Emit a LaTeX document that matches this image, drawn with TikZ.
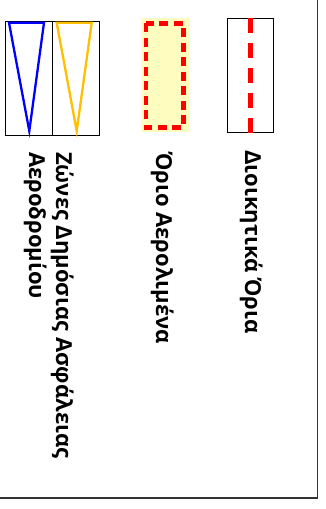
\documentclass[tikz,border=0pt]{standalone}
\usepackage{fontspec}
\setmainfont{Open Sans}
\tikzset{
  legbox/.style={draw=black, line width=0.9pt},
  legtext/.style={rotate=-90, inner sep=0pt, font=\bfseries\fontsize{22}{27}\selectfont, align=left},
  tri/.style={line width=2.3pt, line join=miter},
  redline/.style={draw=red, line width=4.5pt}
}
\definecolor{gold}{HTML}{FFC000}
\begin{document}
\begin{tikzpicture}[x=1pt,y=1pt]
\useasboundingbox (0,0) rectangle (326,509);
% frame
\coordinate (ftop) at (317.5,509);
\coordinate (fcorner) at (317.5,11);
\coordinate (fleft) at (0,11);
\draw[line width=1.2pt, draw=black!80] (ftop) -- (fcorner) -- (fleft);
% box 1: triangles
\node[legbox, minimum width=46.5pt, minimum height=114pt, anchor=north west, inner sep=0pt, draw=black] (b1a) at (5,488) {};
\node[legbox, minimum width=47pt, minimum height=114pt, anchor=north west, inner sep=0pt] (b1b) at (51.7,488) {};
\draw[tri, draw=blue] (9,486.3) -- (44,486.3) -- (29.3,378) -- cycle;
\draw[tri, draw=gold] (56.7,486.3) -- (91.7,486.3) -- (76.7,378) -- cycle;
% box 2: airport limit
\node[fill=yellow!25, minimum width=48pt, minimum height=114pt, anchor=north west, inner sep=0pt] (b2) at (141,490.7) {};
\draw[redline, dash pattern=on 9pt off 5.5pt] (146,485.7) rectangle (183.3,381.3);
% box 3: administrative limits
\node[legbox, minimum width=46.6pt, minimum height=114pt, anchor=north west, inner sep=0pt] (b3) at (226.7,490.7) {};
\draw[redline, dash pattern=on 15pt off 10pt] (b3.north) -- (b3.south);
% texts
\node[legtext, anchor=base west] (t3) at (245,359) {Διοικητικά Όρια};
\node[legtext, anchor=base west] (t2) at (156,357) {Όριο Αερολιμένα};
\node[legtext, anchor=base west] (t1) at (29,357) {Ζώνες Δημόσιας Ασφάλειας\\Αεροδρομίου};
\end{tikzpicture}
\end{document}
